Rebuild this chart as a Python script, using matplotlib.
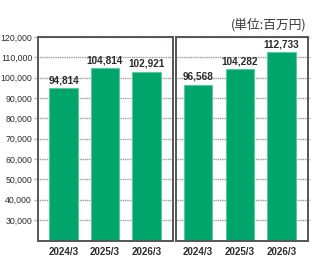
import matplotlib
matplotlib.use("Agg")
import matplotlib.pyplot as plt

categories = ["2024/3", "2025/3", "2026/3"]
left_values = [94814, 104814, 102921]
right_values = [96568, 104282, 112733]
yticks = [30000, 40000, 50000, 60000, 70000, 80000, 90000, 100000, 110000, 120000]
unit_label = "(単位:百万円)"

W, H = 315, 280
fig = plt.figure(figsize=(W / 100, H / 100), dpi=100)

bar_color = "#00a56b"
edge_color = "#5cc99c"
spine_color = "#595454"
grid_color = "#9a9a9a"
text_color = "#2b2b2b"
num_font = ["Liberation Sans", "DejaVu Sans"]


def px_axes(x0, x1, y0, y1):
    return fig.add_axes([x0 / W, 1 - y1 / H, (x1 - x0) / W, (y1 - y0) / H])


ax_l = px_axes(38.3, 173.0, 37.0, 240.5)
ax_r = px_axes(175.7, 307.7, 37.0, 240.5)

for ax, vals, xlim, gx in ((ax_l, left_values, (-0.61, 2.64), (-0.035, 1.0)),
                            (ax_r, right_values, (-0.54, 2.63), (0.0, 1.02))):
    ax.set_xlim(*xlim)
    ax.set_ylim(20000, 120000)
    for y in yticks:
        ax.axhline(y, xmin=gx[0], xmax=gx[1], color=grid_color, lw=1.0,
                   ls=(0, (0.8, 0.5)), clip_on=False, zorder=0.5)
    xs = list(range(len(categories)))
    ax.bar(xs, vals, width=0.68, color=bar_color, edgecolor=edge_color,
           linewidth=0.8, zorder=2)
    for x, v in zip(xs, vals):
        ax.annotate(f"{v:,}", (x, v), xytext=(0, 2.0), textcoords="offset points",
                    ha="center", va="bottom", fontsize=7.2, fontweight="bold",
                    family=num_font, color=text_color, zorder=3)
    ax.set_xticks(xs)
    ax.set_xticklabels(categories, fontsize=7, fontweight="bold",
                       family=num_font, color=text_color)
    ax.tick_params(axis="x", length=0, pad=5)
    for s in ax.spines.values():
        s.set_color(spine_color)
        s.set_linewidth(1.4)
        s.set_zorder(4)

ax_l.set_yticks(yticks)
ax_l.set_yticklabels([f"{v:,}" for v in yticks], fontsize=6.3,
                     family=num_font, color=text_color)
ax_l.tick_params(axis="y", length=0, pad=4.5)
ax_r.set_yticks([])

fig.text(306.7 / W, 1 - 25 / H, unit_label, ha="right", va="center",
         fontsize=9.2, family=["Noto Sans CJK JP", "DejaVu Sans"], color="#3a3a3a")

fig.savefig("out.png", dpi=100)
